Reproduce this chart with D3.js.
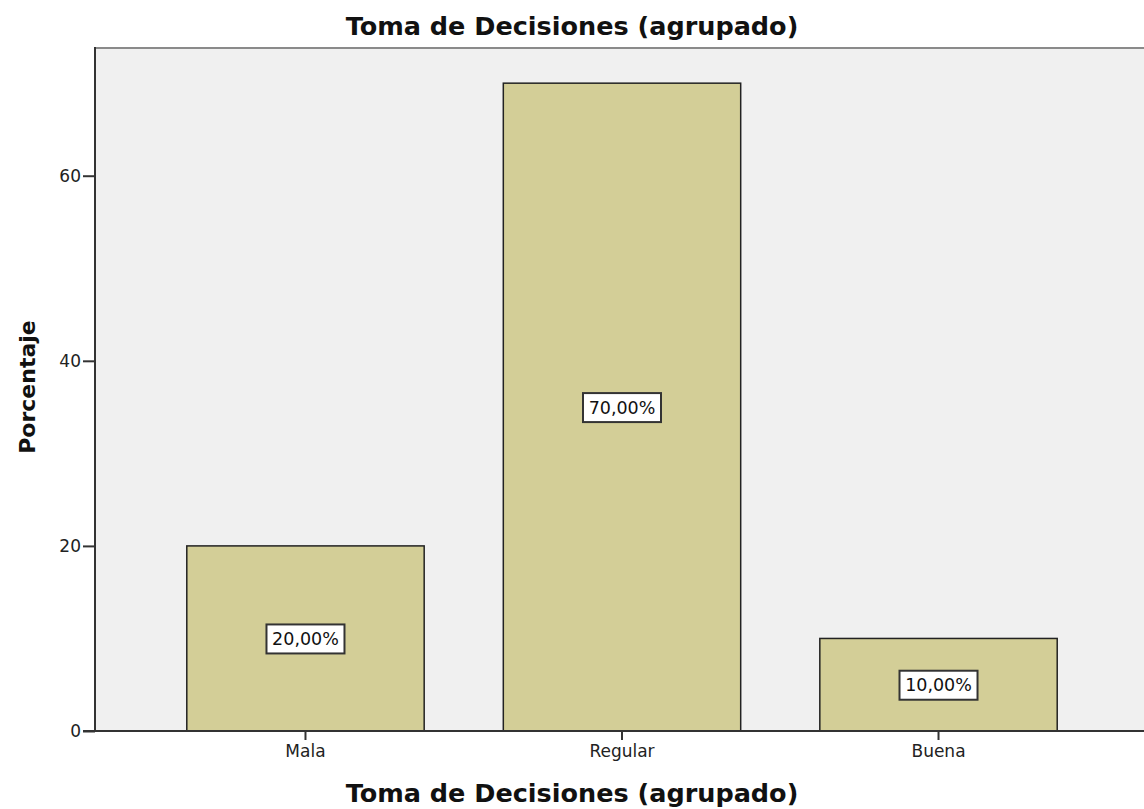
<!DOCTYPE html>
<html>
<head>
<meta charset="utf-8">
<script src="https://cdn.jsdelivr.net/npm/d3@7"></script>
<style>
  body { margin: 0; background: #fff; }
  svg { display: block; font-family: "DejaVu Sans", Verdana, sans-serif; }
</style>
</head>
<body>
<div id="chart"></div>
<script>
var categories = ["Mala", "Regular", "Buena"];
var percents = [20, 70, 10];
var barLabels = ["20,00%", "70,00%", "10,00%"];
var yTicks = [0, 20, 40, 60];

var width = 1144, height = 809;
var margin = { top: 48, left: 95, bottom: 78 };
var plotRight = 1149;
var font = "DejaVu Sans, Verdana, sans-serif";

var svg = d3.select("#chart").append("svg")
  .attr("width", width)
  .attr("height", height);

var x = d3.scaleBand()
  .domain(categories)
  .range([margin.left, plotRight])
  .paddingInner(0.25)
  .paddingOuter(0.29);

var y = d3.scaleLinear()
  .domain([0, 73.8])
  .range([height - margin.bottom, margin.top]);

// plot background
svg.append("rect")
  .attr("x", margin.left)
  .attr("y", margin.top)
  .attr("width", plotRight - margin.left)
  .attr("height", y(0) - margin.top)
  .attr("fill", "#f0f0f0");

// top border
svg.append("line")
  .attr("x1", margin.left).attr("x2", plotRight)
  .attr("y1", margin.top).attr("y2", margin.top)
  .attr("stroke", "#8a8a8a")
  .attr("stroke-width", 2);

// bars
svg.selectAll(".bar")
  .data(categories)
  .enter()
  .append("rect")
  .attr("class", "bar")
  .attr("x", function(d) { return x(d); })
  .attr("y", function(d, i) { return y(percents[i]); })
  .attr("width", x.bandwidth())
  .attr("height", function(d, i) { return y(0) - y(percents[i]); })
  .attr("fill", "#d3ce97")
  .attr("stroke", "#222")
  .attr("stroke-width", 1.5);

// value labels
var lab = svg.selectAll(".lab")
  .data(categories)
  .enter()
  .append("g")
  .attr("class", "lab")
  .attr("transform", function(d, i) {
    return "translate(" + (x(d) + x.bandwidth() / 2) + "," + y(percents[i] / 2) + ")";
  });
lab.append("rect")
  .attr("x", -39)
  .attr("y", -14)
  .attr("width", 78)
  .attr("height", 29)
  .attr("fill", "#fff")
  .attr("stroke", "#333")
  .attr("stroke-width", 2);
lab.append("text")
  .attr("text-anchor", "middle")
  .attr("dy", "0.38em")
  .attr("font-size", 17.5)
  .attr("fill", "#111")
  .text(function(d, i) { return barLabels[i]; });

// y axis
var yAxis = d3.axisLeft(y).tickValues(yTicks).tickSize(12).tickPadding(2);
var yg = svg.append("g")
  .attr("transform", "translate(" + margin.left + ",0)")
  .call(yAxis);
yg.select(".domain").remove();
yg.append("line")
  .attr("x1", 0).attr("x2", 0)
  .attr("y1", margin.top - 1).attr("y2", y(0))
  .attr("stroke", "#333").attr("stroke-width", 2);
yg.selectAll(".tick line").attr("stroke", "#333").attr("stroke-width", 2);
yg.selectAll(".tick text")
  .attr("font-size", 17)
  .attr("font-family", font)
  .attr("fill", "#222");

// x axis
var xAxis = d3.axisBottom(x).tickSize(9).tickPadding(5);
var xg = svg.append("g")
  .attr("transform", "translate(0," + y(0) + ")")
  .call(xAxis);
xg.select(".domain").remove();
xg.append("line")
  .attr("x1", margin.left - 12).attr("x2", plotRight)
  .attr("y1", 0).attr("y2", 0)
  .attr("stroke", "#333").attr("stroke-width", 2);
xg.selectAll(".tick line").attr("stroke", "#333").attr("stroke-width", 2);
xg.selectAll(".tick text")
  .attr("font-size", 17)
  .attr("font-family", font)
  .attr("fill", "#222");

// titles
svg.append("text")
  .attr("x", 572)
  .attr("y", 35)
  .attr("text-anchor", "middle")
  .attr("font-size", 25.5)
  .attr("font-weight", "bold")
  .attr("fill", "#111")
  .text("Toma de Decisiones (agrupado)");

svg.append("text")
  .attr("x", 572)
  .attr("y", 802)
  .attr("text-anchor", "middle")
  .attr("font-size", 25.5)
  .attr("font-weight", "bold")
  .attr("fill", "#111")
  .text("Toma de Decisiones (agrupado)");

svg.append("text")
  .attr("transform", "translate(35," + 387 + ") rotate(-90)")
  .attr("text-anchor", "middle")
  .attr("font-size", 22)
  .attr("font-weight", "bold")
  .attr("fill", "#111")
  .text("Porcentaje");
</script>
</body>
</html>
